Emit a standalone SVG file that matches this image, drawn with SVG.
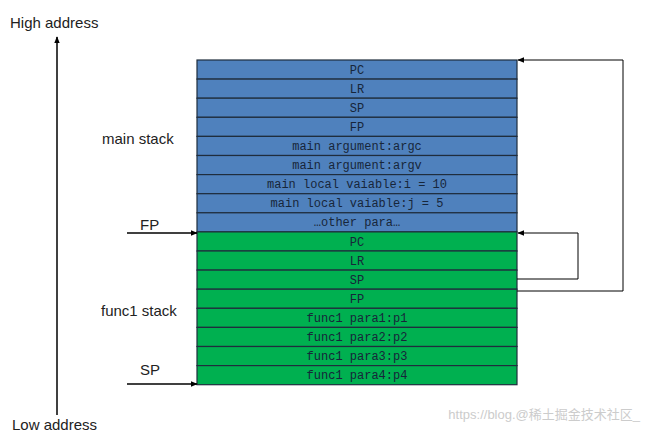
<svg xmlns="http://www.w3.org/2000/svg" width="650" height="441" viewBox="0 0 650 441">
<defs>
<marker id="ah" viewBox="0 0 10 10" refX="9" refY="5" markerWidth="7" markerHeight="7" orient="auto-start-reverse" markerUnits="userSpaceOnUse"><path d="M0,1 L10,5 L0,9 z" fill="#000"/></marker>
<style>
.b{fill:#4f81bd;stroke:#1f2d3d;stroke-width:1.2}
.g{fill:#00b050;stroke:#1f2d3d;stroke-width:1.2}
.c{font-family:"Liberation Mono",monospace;font-size:12px;fill:#17263a;text-anchor:middle}
.l{font-family:"Liberation Sans",Arial,sans-serif;font-size:15px;fill:#222}
.a{stroke:#000;stroke-width:1.5;fill:none;marker-end:url(#ah)}
.t{stroke:#000;stroke-width:1;fill:none;marker-end:url(#ah)}
</style>
</defs>
<rect width="650" height="441" fill="#fff"/>
<g id="main-stack">
<rect class="b" x="197" y="60" width="320" height="19.1"/><text class="c" x="357" y="74">PC</text>
<rect class="b" x="197" y="79.1" width="320" height="19.1"/><text class="c" x="357" y="93">LR</text>
<rect class="b" x="197" y="98.2" width="320" height="19.1"/><text class="c" x="357" y="112">SP</text>
<rect class="b" x="197" y="117.3" width="320" height="19.1"/><text class="c" x="357" y="131">FP</text>
<rect class="b" x="197" y="136.4" width="320" height="19.1"/><text class="c" x="357" y="150">main argument:argc</text>
<rect class="b" x="197" y="155.5" width="320" height="19.1"/><text class="c" x="357" y="169">main argument:argv</text>
<rect class="b" x="197" y="174.6" width="320" height="19.1"/><text class="c" x="357" y="188">main local vaiable:i = 10</text>
<rect class="b" x="197" y="193.7" width="320" height="19.1"/><text class="c" x="357" y="207">main local vaiable:j = 5</text>
<rect class="b" x="197" y="212.8" width="320" height="19.1"/><text class="c" x="357" y="226">…other para…</text>
</g>
<g id="func1-stack">
<rect class="g" x="197" y="231.9" width="320" height="19.1"/><text class="c" x="357" y="246">PC</text>
<rect class="g" x="197" y="251" width="320" height="19.1"/><text class="c" x="357" y="265">LR</text>
<rect class="g" x="197" y="270.1" width="320" height="19.1"/><text class="c" x="357" y="284">SP</text>
<rect class="g" x="197" y="289.2" width="320" height="19.1"/><text class="c" x="357" y="303">FP</text>
<rect class="g" x="197" y="308.3" width="320" height="19.1"/><text class="c" x="357" y="322">func1 para1:p1</text>
<rect class="g" x="197" y="327.4" width="320" height="19.1"/><text class="c" x="357" y="341">func1 para2:p2</text>
<rect class="g" x="197" y="346.5" width="320" height="19.1"/><text class="c" x="357" y="360">func1 para3:p3</text>
<rect class="g" x="197" y="365.6" width="320" height="19.1"/><text class="c" x="357" y="379">func1 para4:p4</text>
</g>
<g id="labels">
<text class="l" x="10" y="28">High address</text>
<text class="l" x="12" y="430">Low address</text>
<text class="l" x="102" y="144">main stack</text>
<text class="l" x="140" y="230">FP</text>
<text class="l" x="101" y="316">func1 stack</text>
<text class="l" x="140" y="375">SP</text>
<text x="640" y="419" text-anchor="end" font-family="'Liberation Sans','Noto Sans CJK SC',sans-serif" font-size="13" fill="#ccc">https://blog.@稀土掘金技术社区_</text>
</g>
<g id="connectors">
<path class="a" d="M57,415 V37"/>
<path class="a" d="M127,233 H197"/>
<path class="a" d="M127,384 H197"/>
<path class="t" d="M517,279 H578 V233 H518"/>
<path class="t" d="M517,291 H623 V60 H518"/>
</g>
</svg>
